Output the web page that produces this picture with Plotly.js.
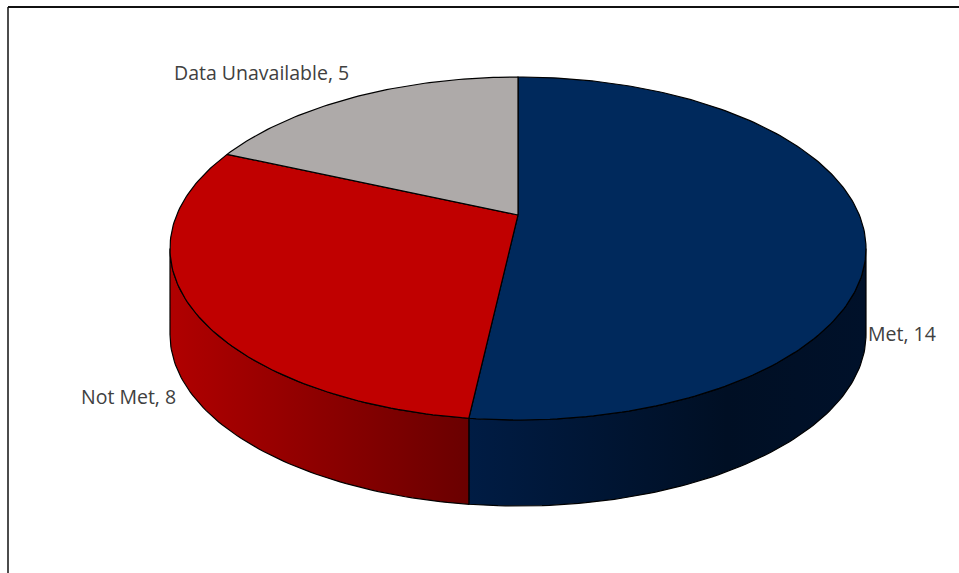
<!DOCTYPE html>
<html>
<head>
<meta charset="utf-8">
<script src="https://cdn.plot.ly/plotly-3.0.1.min.js"></script>
<style>html,body{margin:0;padding:0;background:#fff;}#chart{width:959px;height:573px;}</style>
</head>
<body>
<div id="chart"></div>
<script>
// ---- data ----
const categories = ['Met', 'Not Met', 'Data Unavailable'];
const counts = [14, 8, 5];

// ---- style ----
const topColors = ['#00295C', '#C00000', '#AEAAA9'];
const sideScales = [
  [[0, '#001c44'], [0.65, '#000f24'], [1, '#00112a']],
  [[0, '#b00000'], [1, '#6a0000']],
  [[0, '#8a8685'], [1, '#6a6665']]
];
const labelPos = [[866, 333], [79, 396], [172, 72]];

// pie geometry (pixel space, perspective-projected disk)
const CX = 518, CY = 215, A = 341.3, B = 164.95, P = 0.1953, DEPTH = 86;

function proj(deg, dy) {
  const t = deg * Math.PI / 180;
  const u = Math.sin(t), v = Math.cos(t), w = 1 + P * v;
  return [CX + A * u / w, CY - B * v / w + dy];
}
function arc(a0, a1, dy) {
  const n = Math.max(2, Math.ceil(Math.abs(a1 - a0) / 1));
  const pts = [];
  for (let i = 0; i <= n; i++) pts.push(proj(a0 + (a1 - a0) * i / n, dy));
  return pts;
}

const total = counts.reduce((s, v) => s + v, 0);
const bounds = [];
let acc = 0;
counts.forEach(v => { const s = acc; acc += v; bounds.push([s / total * 360, acc / total * 360]); });

const visLo = Math.acos(-P) * 180 / Math.PI, visHi = 360 - visLo;
const traces = [];

// side walls
bounds.forEach(([a0, a1], i) => {
  const s = Math.max(a0, visLo), e = Math.min(a1, visHi);
  if (e <= s) return;
  const pts = arc(s, e, 0).concat(arc(e, s, DEPTH));
  pts.push(pts[0]);
  traces.push({
    type: 'scatter', mode: 'lines', x: pts.map(p => p[0]), y: pts.map(p => p[1]),
    fill: 'toself', fillgradient: {type: 'horizontal', colorscale: sideScales[i]},
    line: {color: '#000', width: 1.2}, hoverinfo: 'skip'
  });
});

// top faces
bounds.forEach(([a0, a1], i) => {
  const cc = [CX, CY];
  const pts = [cc].concat(arc(a0, a1, 0)); pts.push(cc);
  traces.push({
    type: 'scatter', mode: 'lines', x: pts.map(p => p[0]), y: pts.map(p => p[1]),
    fill: 'toself', fillcolor: topColors[i],
    line: {color: '#000', width: 1.2}, hoverinfo: 'skip'
  });
});

const annotations = categories.map((c, i) => ({
  x: labelPos[i][0], y: labelPos[i][1], xref: 'x', yref: 'y',
  xanchor: 'left', yanchor: 'middle', showarrow: false,
  text: c + ', ' + counts[i],
  font: {family: '"Open Sans", sans-serif', size: 19.5, color: '#404040'}
}));

const layout = {
  width: 959, height: 573, margin: {l: 0, r: 0, t: 0, b: 0},
  paper_bgcolor: '#fff', plot_bgcolor: '#fff', showlegend: false,
  xaxis: {range: [0, 959], visible: false, fixedrange: true},
  yaxis: {range: [573, 0], visible: false, fixedrange: true},
  annotations: annotations,
  shapes: [
    {type: 'line', xref: 'paper', yref: 'paper', x0: 8 / 959, x1: 1, y0: 1 - 7 / 573, y1: 1 - 7 / 573, line: {color: '#111', width: 2}},
    {type: 'line', xref: 'paper', yref: 'paper', x0: 8 / 959, x1: 8 / 959, y0: 0, y1: 1 - 7 / 573, line: {color: '#111', width: 1.5}}
  ]
};

Plotly.newPlot('chart', traces, layout, {displayModeBar: false, staticPlot: true});
</script>
</body>
</html>
